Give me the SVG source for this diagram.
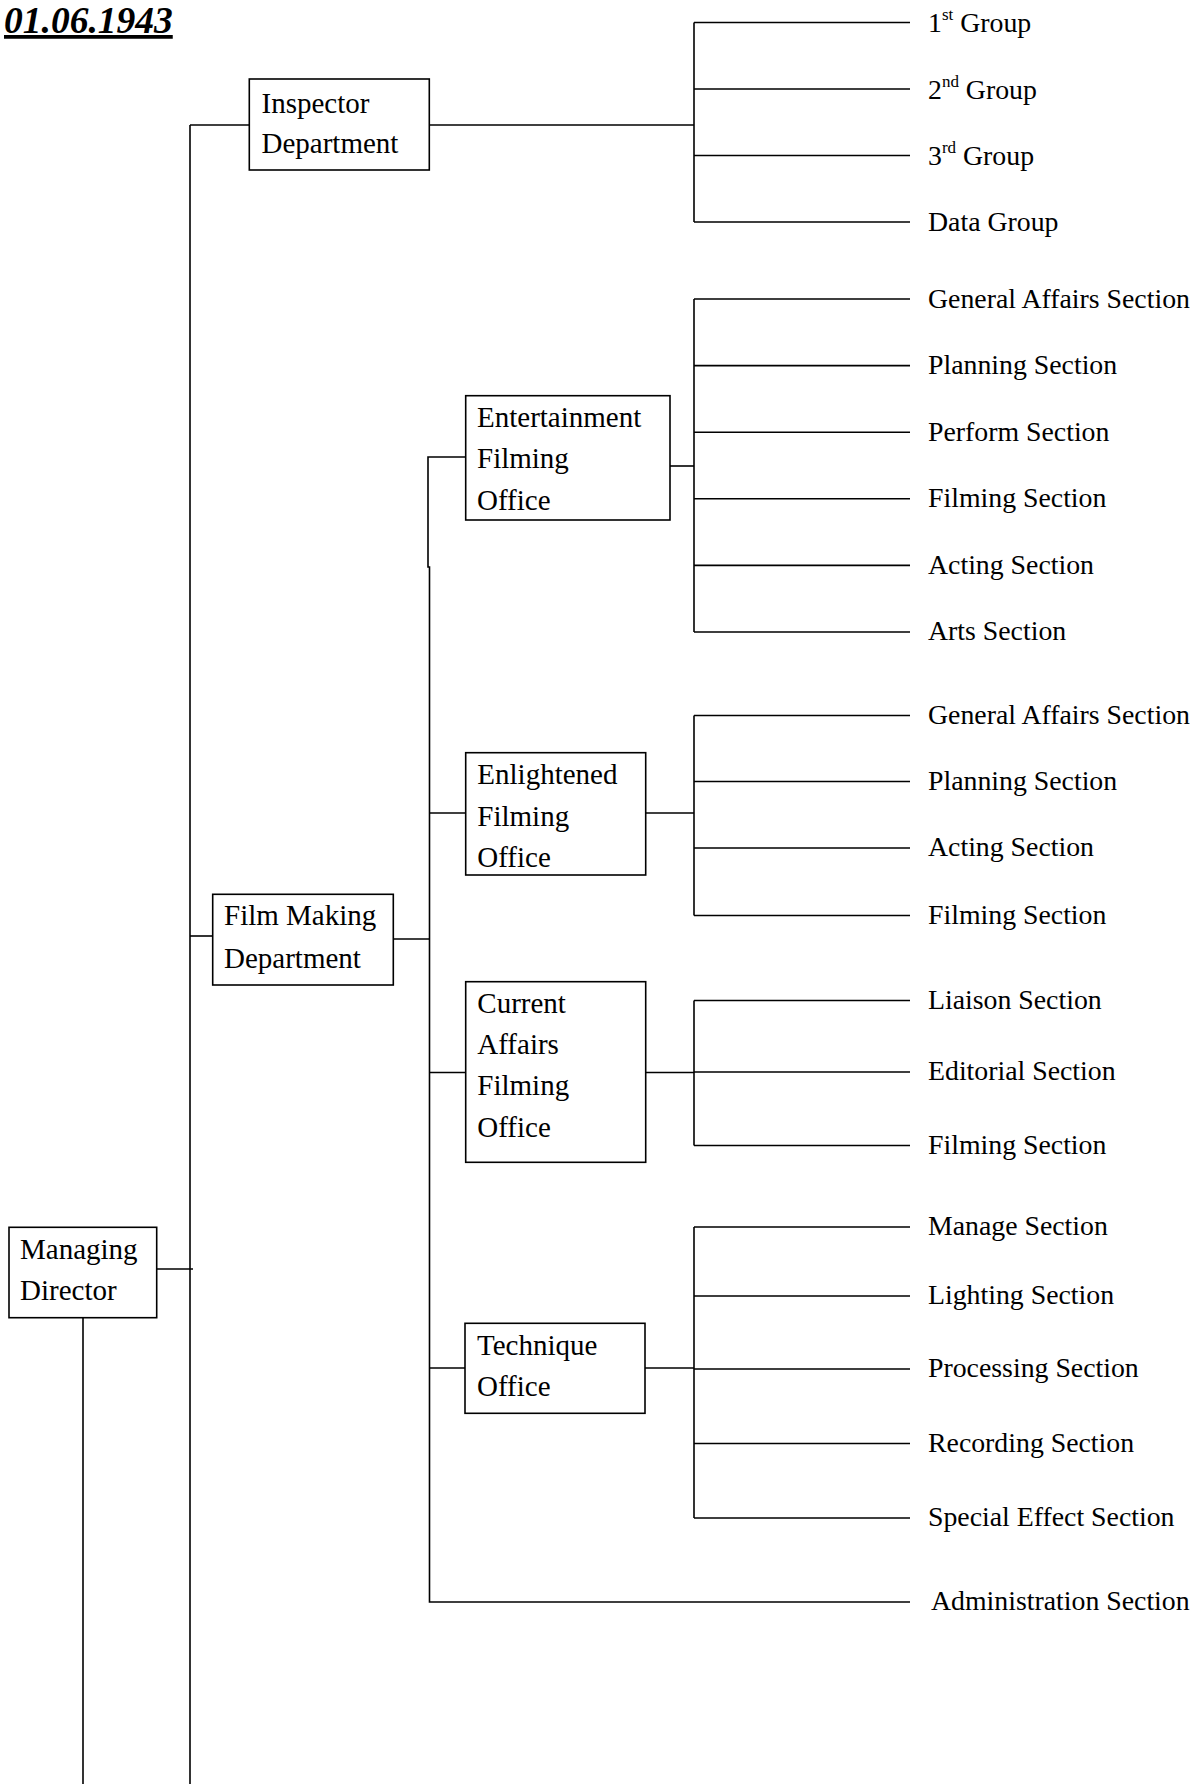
<svg xmlns="http://www.w3.org/2000/svg" width="1200" height="1784" viewBox="0 0 1200 1784">
  <style>
    .box { fill: #fff; stroke: #000; stroke-width: 1.6; }
    .wire { fill: none; stroke: #000; stroke-width: 1.6; }
    .t { font-family: "Liberation Serif", "Times New Roman", serif; font-size: 29px; fill: #000; }
    .s { font-family: "Liberation Serif", "Times New Roman", serif; font-size: 27.8px; fill: #000; }
    .sup { font-size: 17px; }
    .title { font-family: "Liberation Serif", "Times New Roman", serif; font-size: 37.5px; font-weight: bold; font-style: italic; text-decoration: underline; fill: #000; }
  </style>

  <rect width="1200" height="1784" fill="#fff"/>

  <text class="title" x="4" y="33">01.06.1943</text>

  <!-- connectors -->
  <g id="connectors" class="wire">
    <!-- trunk from the managing director -->
    <path d="M190 125 V1784"/>
    <path d="M157 1269 H193"/>
    <path d="M83 1318 V1784"/>
    <path d="M190 125 H249"/>
    <path d="M190 936 H213"/>

    <!-- inspector department groups -->
    <path d="M429 125 H694"/>
    <path d="M694 22.5 V222"/>
    <path d="M694 22.5 H910 M694 89 H910 M694 155.5 H910 M694 222 H910"/>

    <!-- film making department offices -->
    <path d="M393 939 H429.5"/>
    <path d="M466 457 H428 V567 H429.5 V1602 H910"/>
    <path d="M429.5 813 H466"/>
    <path d="M429.5 1072.5 H466"/>
    <path d="M429.5 1368 H465"/>

    <!-- entertainment filming office sections -->
    <path d="M670 466 H694"/>
    <path d="M694 299 V632"/>
    <path d="M694 299 H910 M694 365.6 H910 M694 432.2 H910 M694 498.8 H910 M694 565.4 H910 M694 632 H910"/>

    <!-- enlightened filming office sections -->
    <path d="M645.7 813 H694"/>
    <path d="M694 715.5 V915.5"/>
    <path d="M694 715.5 H910 M694 781.5 H910 M694 848 H910 M694 915.5 H910"/>

    <!-- current affairs filming office sections -->
    <path d="M645.7 1072.5 H694"/>
    <path d="M694 1000.5 V1145.5"/>
    <path d="M694 1000.5 H910 M694 1072 H910 M694 1145.5 H910"/>

    <!-- technique office sections -->
    <path d="M645 1368 H694"/>
    <path d="M694 1227 V1518"/>
    <path d="M694 1227 H910 M694 1296 H910 M694 1369 H910 M694 1443.5 H910 M694 1518 H910"/>
  </g>

  <!-- boxed units -->
  <g id="managing-director">
    <rect class="box" x="9" y="1227.3" width="147.7" height="90.4"/>
    <text class="t" x="20" y="1258.5">Managing</text>
    <text class="t" x="20" y="1299.5">Director</text>
  </g>

  <g id="inspector-department">
    <rect class="box" x="249.3" y="79" width="180" height="91"/>
    <text class="t" x="261.5" y="112.7">Inspector</text>
    <text class="t" x="261.5" y="153.3">Department</text>
  </g>

  <g id="film-making-department">
    <rect class="box" x="212.7" y="894.3" width="180.6" height="90.7"/>
    <text class="t" x="224" y="925">Film Making</text>
    <text class="t" x="224" y="968">Department</text>
  </g>

  <g id="entertainment-filming-office">
    <rect class="box" x="465.7" y="395.7" width="204.3" height="124.3"/>
    <text class="t" x="477" y="426.7">Entertainment</text>
    <text class="t" x="477" y="468">Filming</text>
    <text class="t" x="477" y="509.5">Office</text>
  </g>

  <g id="enlightened-filming-office">
    <rect class="box" x="465.7" y="752.7" width="180" height="122.3"/>
    <text class="t" x="477.3" y="784">Enlightened</text>
    <text class="t" x="477.3" y="825.5">Filming</text>
    <text class="t" x="477.3" y="867">Office</text>
  </g>

  <g id="current-affairs-filming-office">
    <rect class="box" x="465.7" y="981.7" width="180" height="180.6"/>
    <text class="t" x="477.3" y="1012.7">Current</text>
    <text class="t" x="477.3" y="1053.7">Affairs</text>
    <text class="t" x="477.3" y="1095">Filming</text>
    <text class="t" x="477.3" y="1136.7">Office</text>
  </g>

  <g id="technique-office">
    <rect class="box" x="465" y="1323.3" width="180" height="90"/>
    <text class="t" x="477" y="1355">Technique</text>
    <text class="t" x="477" y="1396">Office</text>
  </g>

  <!-- inspector department groups -->
  <g id="inspector-groups">
    <text class="s" x="928" y="32">1<tspan class="sup" dy="-12">st</tspan><tspan dy="12"> Group</tspan></text>
    <text class="s" x="928" y="98.5">2<tspan class="sup" dy="-12">nd</tspan><tspan dy="12"> Group</tspan></text>
    <text class="s" x="928" y="164.5">3<tspan class="sup" dy="-12">rd</tspan><tspan dy="12"> Group</tspan></text>
    <text class="s" x="928" y="231">Data Group</text>
  </g>

  <g id="entertainment-sections">
    <text class="s" x="928" y="307.5">General Affairs Section</text>
    <text class="s" x="928" y="374">Planning Section</text>
    <text class="s" x="928" y="440.5">Perform Section</text>
    <text class="s" x="928" y="507">Filming Section</text>
    <text class="s" x="928" y="573.5">Acting Section</text>
    <text class="s" x="928" y="640">Arts Section</text>
  </g>

  <g id="enlightened-sections">
    <text class="s" x="928" y="723.5">General Affairs Section</text>
    <text class="s" x="928" y="789.5">Planning Section</text>
    <text class="s" x="928" y="856">Acting Section</text>
    <text class="s" x="928" y="924">Filming Section</text>
  </g>

  <g id="current-affairs-sections">
    <text class="s" x="928" y="1008.5">Liaison Section</text>
    <text class="s" x="928" y="1079.5">Editorial Section</text>
    <text class="s" x="928" y="1153.5">Filming Section</text>
  </g>

  <g id="technique-sections">
    <text class="s" x="928" y="1235">Manage Section</text>
    <text class="s" x="928" y="1304">Lighting Section</text>
    <text class="s" x="928" y="1377">Processing Section</text>
    <text class="s" x="928" y="1451.5">Recording Section</text>
    <text class="s" x="928" y="1526">Special Effect Section</text>
  </g>

  <g id="administration-section">
    <text class="s" x="931" y="1610">Administration Section</text>
  </g>
</svg>
